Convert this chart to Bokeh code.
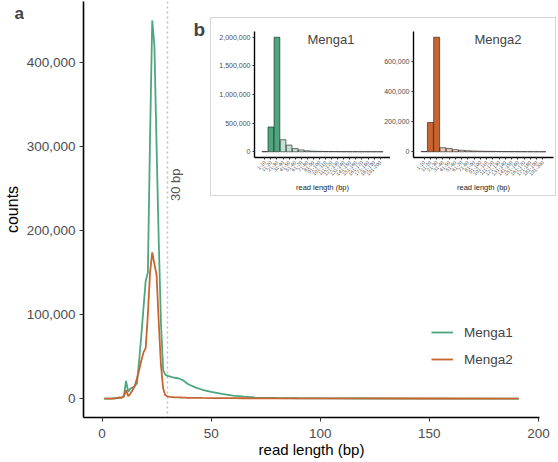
import math
from bokeh.plotting import figure
from bokeh.models import (Range1d, FactorRange, FixedTicker, NumeralTickFormatter, Span, Label,
                          Legend, LegendItem, ColumnDataSource)
from bokeh.layouts import column, row
from bokeh.embed import file_html
from bokeh.resources import INLINE

FONT = "Liberation Sans"
GREEN = "#4DA67E"
ORANGE = "#C9632F"

# ---------------- data ----------------
read_length = [1, 2, 3, 4, 5, 6, 7, 8, 9, 10, 11, 12, 13, 14, 15, 16, 17, 18, 19, 20,
               21, 22, 23, 24, 25, 26, 27, 28, 29, 30, 31, 32, 33, 34, 35, 36, 37, 38, 39, 40,
               43, 46, 50, 55, 60, 65, 70, 80, 90, 100, 120, 150, 191]
menga1_counts = [0, 0, 0, 0, 200, 400, 600, 800, 1200, 3000, 21000, 8000, 12000, 13000, 15000,
                 18000, 45000, 75000, 108000, 140000,
                 150000, 310000, 450000, 420000, 300000, 186000, 90000, 34000, 28500, 27000,
                 26500, 25500, 25000, 24500, 24000, 23000, 22000, 20000, 18000, 16500,
                 13000, 10500, 8000, 5500, 3500, 2300, 1500, 700, 400, 250, 120, 50, 0]
menga2_counts = [0, 0, 0, 0, 0, 300, 800, 1500, 1000, 2500, 10000, 3000, 6000, 10000, 15000,
                 24000, 34000, 45000, 55000, 60000,
                 100000, 150000, 174000, 160000, 147000, 90000, 40000, 12000, 4000, 2500,
                 2000, 1800, 1600, 1500, 1400, 1300, 1200, 1100, 1000, 950,
                 850, 750, 650, 550, 450, 400, 350, 300, 250, 200, 150, 100, 50]
x_ticks = [0, 50, 100, 150, 200]
y_ticks = [0, 100000, 200000, 300000, 400000]
cutoff_bp = 30

bins = ["1-10", "11-20", "21-30", "31-40", "41-50", "51-60", "61-70", "71-80", "81-90", "91-100",
        "101-110", "111-120", "121-130", "131-140", "141-150", "151-160", "161-170", "171-180",
        "181-190", "191-200"]
menga1_bin_counts = [3000, 433000, 2000000, 211000, 117000, 55000, 33000, 17000, 10000, 7000,
                     5000, 4000, 3000, 2500, 2000, 1500, 1200, 1000, 800, 600]
menga2_bin_counts = [2000, 195000, 763000, 27000, 22000, 14000, 10000, 7000, 5000, 4000,
                     3000, 2500, 2000, 1500, 1200, 1000, 800, 600, 400, 200]
bin_alpha = [1, 1, 1] + [0.35] * 17
menga1_yticks = [0, 500000, 1000000, 1500000, 2000000]
menga2_yticks = [0, 200000, 400000, 600000]

W, H = 556, 460

# ---------------- main plot ----------------
p = figure(width=W, height=H, x_range=Range1d(-8.5, 200.5), y_range=Range1d(-22500, 472500),
           output_backend="svg", toolbar_location=None, min_border_left=83, min_border_right=17,
           min_border_top=1, min_border_bottom=42)
p.grid.visible = False
p.outline_line_color = None

p.add_layout(Span(location=cutoff_bp, dimension="height", line_color="#BDBDBD",
                  line_dash="2 3", line_width=1.5, level="underlay"))

src = ColumnDataSource(dict(x=read_length, m1=menga1_counts, m2=menga2_counts))
r1 = p.line("x", "m1", source=src, line_color=GREEN, line_width=1.8)
r2 = p.line("x", "m2", source=src, line_color=ORANGE, line_width=1.8)

for ax in (p.xaxis[0], p.yaxis[0]):
    ax.axis_line_width = 1.6
    ax.axis_line_color = "black"
    ax.major_tick_line_color = "#333333"
    ax.major_tick_out = 4
    ax.major_tick_in = 0
    ax.minor_tick_line_color = None
    ax.major_label_text_font = FONT
    ax.major_label_text_font_size = "13.5px"
    ax.major_label_text_color = "#4D4D4D"
    ax.axis_label_text_font = FONT
    ax.axis_label_text_font_style = "normal"
    ax.axis_label_text_color = "black"
p.xaxis.major_label_standoff = 7
p.xaxis.axis_label_standoff = 0
p.xaxis.axis_label_text_font_size = "15px"
p.yaxis.major_label_standoff = 4
p.yaxis.axis_label_standoff = 3
p.yaxis.axis_label_text_font_size = "16px"
p.xaxis.ticker = FixedTicker(ticks=x_ticks)
p.yaxis.ticker = FixedTicker(ticks=y_ticks)
p.yaxis.formatter = NumeralTickFormatter(format="0,0")
p.xaxis.axis_label = "read length (bp)"
p.yaxis.axis_label = "counts"

p.add_layout(Label(x=cutoff_bp, y=235000, x_offset=0, text="30 bp", angle=math.pi / 2,
                   text_align="left", text_baseline="top", text_font=FONT,
                   text_font_size="13px", text_color="#555555"))

legend = Legend(items=[LegendItem(label="Menga1", renderers=[r1]),
                       LegendItem(label="Menga2", renderers=[r2])],
                location=(348, 48), orientation="vertical", border_line_color=None,
                background_fill_alpha=0, label_text_font=FONT, label_text_font_size="13.5px",
                glyph_width=22, glyph_height=20, label_height=20, spacing=7, padding=0,
                margin=0, label_standoff=11)
p.add_layout(legend)

# "b" panel tag (inside the main frame, just left of the inset box)
p.add_layout(Label(x=110, y=388, x_units="screen", y_units="screen", text="b",
                   text_baseline="alphabetic", text_font=FONT, text_font_size="19px",
                   text_font_style="bold"))


# ---------------- inset ----------------
def make_inset(counts, color, ymax, yticks, title, width, left, right, title_x):
    pad = ymax * 0.05
    f = figure(width=width, height=177,
               x_range=FactorRange(factors=bins, range_padding=1.2, range_padding_units="absolute"),
               y_range=Range1d(-pad, ymax + pad), output_backend="svg", toolbar_location=None,
               min_border_left=left, min_border_right=right, min_border_top=13,
               min_border_bottom=31)
    f.grid.visible = False
    f.outline_line_color = None
    f.background_fill_alpha = 0
    f.border_fill_alpha = 0
    s = ColumnDataSource(dict(bin=bins, count=counts, alpha=bin_alpha))
    f.vbar(x="bin", top="count", bottom=0, width=0.95, source=s, fill_color=color,
           fill_alpha="alpha", line_color="#1A1A1A", line_width=0.6)
    for ax in (f.xaxis[0], f.yaxis[0]):
        ax.axis_line_width = 1.4
        ax.axis_line_color = "black"
        ax.major_tick_line_color = "#333333"
        ax.major_tick_out = 2
        ax.major_tick_in = 0
        ax.minor_tick_line_color = None
        ax.major_label_text_font = FONT
        ax.major_label_text_color = "#4D4D4D"
        ax.major_label_standoff = 2
    f.yaxis.major_label_text_font_size = "7px"
    f.yaxis.ticker = FixedTicker(ticks=yticks)
    f.yaxis.formatter = NumeralTickFormatter(format="0,0")
    f.xaxis.major_label_text_font_size = "5px"
    f.xaxis.major_label_orientation = math.pi / 4
    f.xaxis.axis_label = "read length (bp)"
    f.xaxis.axis_label_text_font = FONT
    f.xaxis.axis_label_text_font_size = "7.5px"
    f.xaxis.axis_label_text_font_style = "normal"
    f.xaxis.axis_label_text_color = "#1A1A1A"
    f.xaxis.axis_label_standoff = 3
    f.add_layout(Label(x=title_x, y=118, x_units="screen", y_units="screen", text=title,
                       text_baseline="middle", text_font=FONT, text_font_size="13px"))
    return f


f1 = make_inset(menga1_bin_counts, GREEN, 2000000, menga1_yticks, "Menga1", 179, 43, 0, 53)
f2 = make_inset(menga2_bin_counts, ORANGE, 763000, menga2_yticks, "Menga2", 174, 30, 2, 61)
f2.margin = (0, 0, 0, -9)

INSET_TOP, INSET_LEFT = 17, 210
inset_outer = 177 + 2
inset_box = row(f1, f2, margin=(-(H - INSET_TOP), 0, 0, INSET_LEFT),
                styles={"border": "1px solid #D6D6D6", "background-color": "white"})

# "a" panel tag in its own small transparent canvas (no axes) at the top-left corner
TAG_W, TAG_H = 30, 30
tag = figure(width=TAG_W, height=TAG_H, x_range=Range1d(0, TAG_W), y_range=Range1d(0, TAG_H),
             x_axis_type=None, y_axis_type=None, output_backend="svg",
             toolbar_location=None, min_border=0)
tag.grid.visible = False
tag.outline_line_color = None
tag.background_fill_alpha = 0
tag.border_fill_alpha = 0
tag.add_layout(Label(x=3, y=TAG_H - 17, text="a", text_baseline="alphabetic",
                     text_font=FONT, text_font_size="17px", text_font_style="bold"))
tag.margin = (-(INSET_TOP + inset_outer) - 4, 0, 0, -6)

layout = column(p, inset_box, tag)

open("out.html", "w").write(file_html(layout, INLINE))
